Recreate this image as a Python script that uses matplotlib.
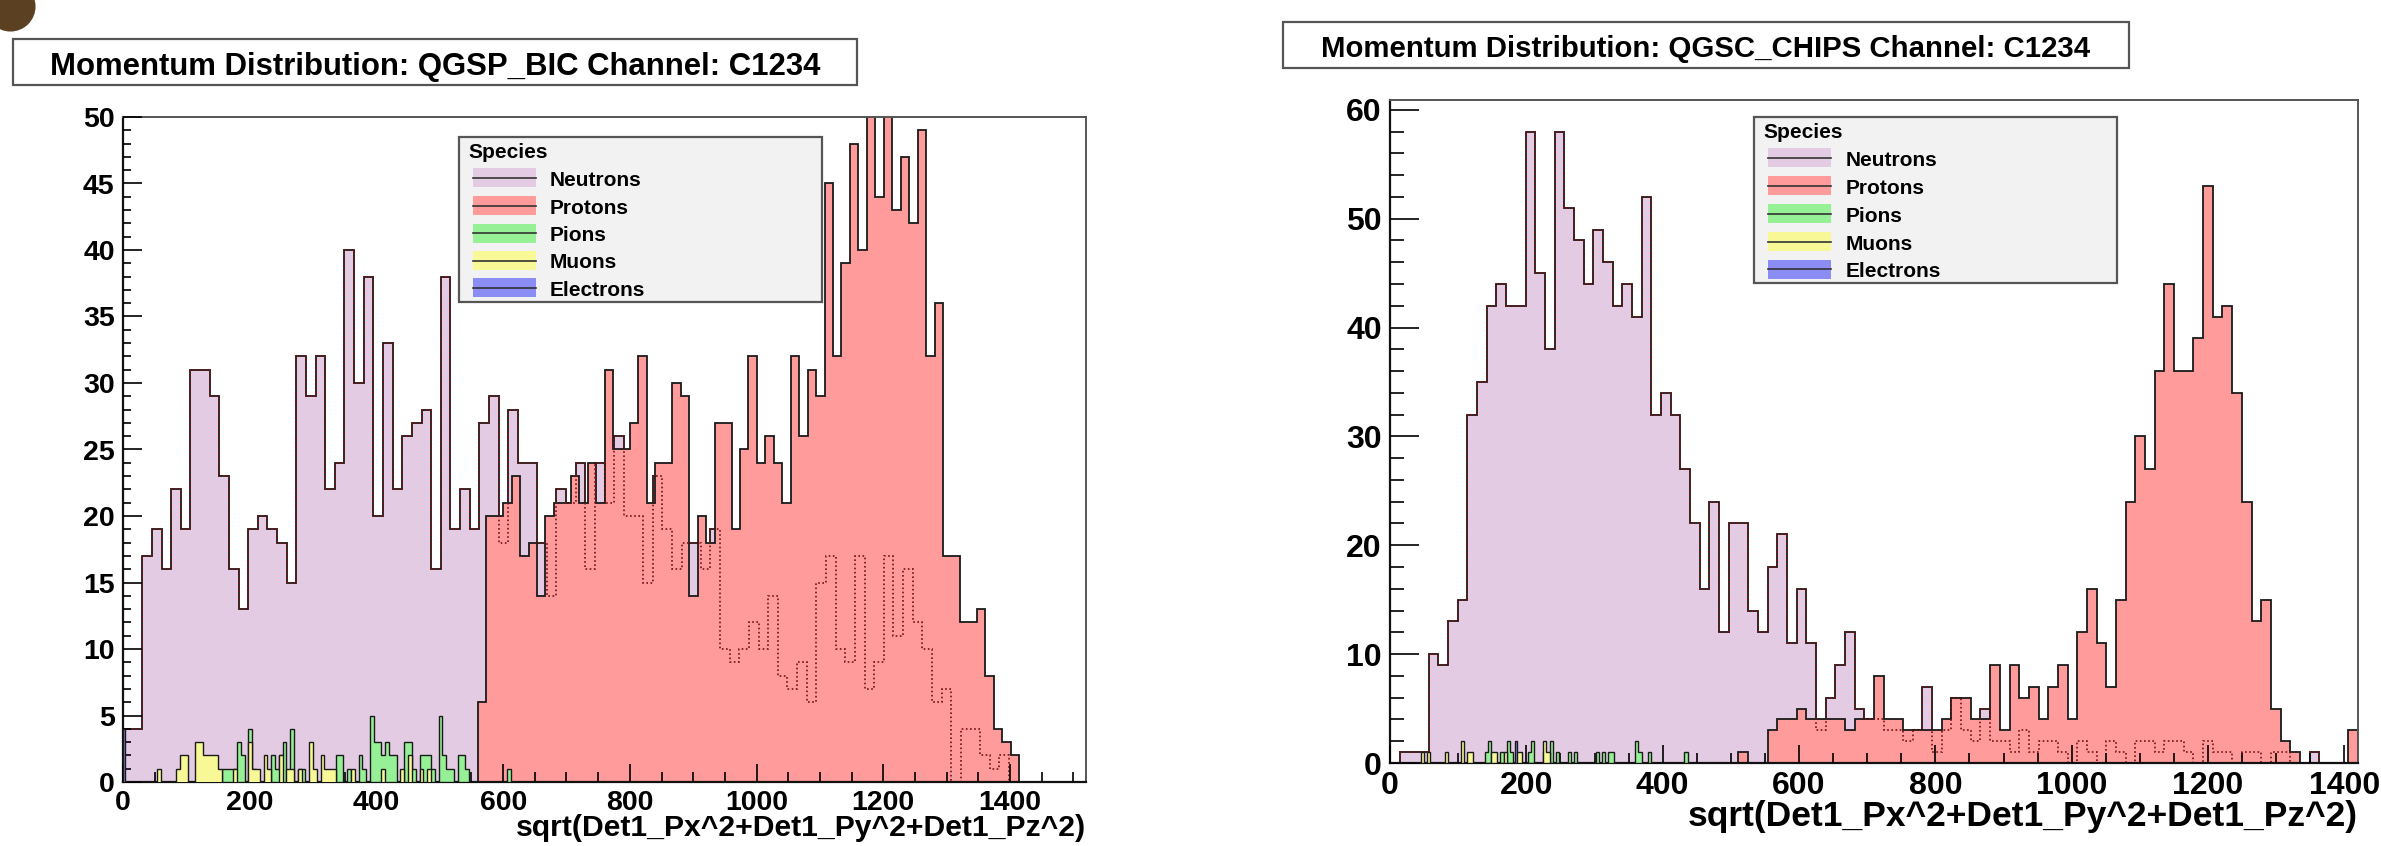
import numpy as np
import matplotlib
matplotlib.use("Agg")
import matplotlib.pyplot as plt
from matplotlib.patches import Rectangle
from matplotlib.ticker import MultipleLocator

W, H = 2381, 846

plt.rcParams['font.family'] = ['Liberation Sans', 'DejaVu Sans']
plt.rcParams['font.weight'] = 'bold'

species = ['Neutrons', 'Protons', 'Pions', 'Muons', 'Electrons']
colors = ['#e2cbe3', '#ff9b9b', '#96f096', '#f8f896', '#8c8cf5']
x_title = 'sqrt(Det1_Px^2+Det1_Py^2+Det1_Pz^2)'

# ---------------- QGSP_BIC (left) ----------------
bic_title = 'Momentum Distribution: QGSP_BIC Channel: C1234'
bic_xmax, bic_ymax = 1520, 50
bic_neutron_x0, bic_neutron_w = 0, 15.2
bic_neutrons = [4, 4, 17, 19, 16, 22, 19, 31, 31, 29,
                23, 16, 13, 19, 20, 19, 18, 15, 32, 29,
                32, 22, 24, 40, 30, 38, 20, 33, 22, 26,
                27, 28, 16, 38, 19, 22, 19, 27, 29, 18,
                28, 24, 24, 18, 14, 22, 21, 24, 16, 24,
                21, 26, 20, 20, 15, 23, 19, 16, 18, 18,
                16, 19, 10, 9, 10, 12, 10, 14, 8, 7,
                9, 6, 15, 17, 10, 9, 17, 7, 9, 17,
                11, 16, 12, 10, 6, 7, 0, 4, 4, 2,
                1, 2, 0, 0, 0, 0, 0, 0, 0, 0]
bic_proton_x0, bic_proton_w = 560, 13.35
bic_protons = [6, 20, 20, 21, 23, 17, 18, 14, 20, 21, 21, 23, 21, 24, 21, 31, 25, 25,
               27, 32, 21, 24, 24, 30, 29, 14, 20, 18, 27, 27, 19, 25, 32, 24, 26, 24,
               21, 32, 26, 31, 29, 45, 32, 39, 48, 40, 52, 44, 52, 43, 47, 42, 49, 32,
               36, 17, 17, 12, 12, 13, 8, 4, 3, 2]
bic_fine_w, bic_fine_max = 6, 620
bic_pion_p = [160, 166, 172, 178, 184, 190, 203, 209, 237, 245, 250, 256, 268, 278,
              286, 340, 346, 355, 376, 382, 392, 398, 404, 410, 418, 424, 430, 444,
              450, 460, 472, 478, 484, 490, 500, 506, 514, 521, 530, 536, 542, 606]
bic_pion_n = [1, 1, 1, 1, 3, 2, 4, 1, 2, 1, 2, 3, 4, 1,
              1, 2, 2, 1, 2, 1, 5, 3, 3, 2, 3, 2, 2, 3,
              3, 1, 2, 2, 2, 1, 5, 2, 1, 1, 2, 2, 1, 1]
bic_muon_p = [56, 86, 95, 101, 114, 122, 128, 134, 140, 146, 152, 176, 201, 208, 214,
              222, 232, 248, 263, 269, 276, 296, 302, 314, 322, 328, 334, 362, 412,
              440, 455, 470, 484]
bic_muon_n = [1, 1, 2, 2, 3, 3, 2, 2, 2, 2, 1, 1, 3, 1, 1,
              2, 1, 2, 1, 1, 1, 3, 1, 2, 1, 1, 1, 1, 1,
              1, 2, 1, 1]
bic_electron_p = [1]
bic_electron_n = [4]

# ---------------- QGSC_CHIPS (right) ----------------
chips_title = 'Momentum Distribution: QGSC_CHIPS Channel: C1234'
chips_xmax, chips_ymax = 1420, 60.9
chips_w = 14.2
chips_neutrons = [0, 1, 1, 1, 10, 9, 13, 15, 32, 35,
                  42, 44, 42, 42, 58, 45, 38, 58, 51, 48,
                  44, 49, 46, 42, 44, 41, 52, 32, 34, 32,
                  27, 22, 16, 24, 12, 22, 22, 14, 12, 18,
                  21, 11, 16, 11, 3, 6, 9, 12, 5, 4,
                  4, 3, 3, 2, 3, 7, 1, 3, 6, 3,
                  2, 5, 2, 2, 1, 3, 1, 2, 2, 1,
                  0, 2, 1, 0, 2, 1, 0, 2, 2, 1,
                  2, 2, 1, 0, 2, 1, 1, 0, 1, 1,
                  0, 1, 1, 0, 0, 1, 0, 0, 0, 0]
chips_protons = [0] * 36 + [1, 0, 0, 3,
                            4, 4, 5, 4, 4, 4, 4, 3, 4, 4,
                            8, 4, 4, 3, 3, 3, 3, 4, 6, 6,
                            4, 4, 9, 3, 9, 6, 7, 4, 7, 9,
                            4, 12, 16, 11, 7, 15, 24, 30, 27, 36,
                            44, 36, 36, 39, 53, 41, 42, 34, 24, 13,
                            15, 5, 2, 1, 0, 0, 0, 0, 0, 3]
chips_fine_w, chips_fine_max = 4.5, 450
chips_pion_p = [141, 146, 166, 173, 178, 204, 209, 227, 236, 247, 264, 270, 302, 312,
                320, 325, 361, 368, 381, 433]
chips_pion_n = [1, 2, 1, 2, 1, 1, 2, 1, 2, 1, 1, 1, 1, 1, 1, 1, 2, 1, 1, 1]
chips_muon_p = [48, 57, 85, 106, 115, 121, 150, 156, 168, 186, 190, 227, 231]
chips_muon_n = [1, 1, 1, 2, 1, 1, 1, 1, 1, 1, 1, 2, 1]
chips_electron_p = [183]
chips_electron_n = [2]


def px_axes(fig, l, t, r, b):
    return fig.add_axes([l / W, 1 - b / H, (r - l) / W, (b - t) / H])


def hist(ax, x0, w, vals, color, z, lw=1.3):
    edges = x0 + w * np.arange(len(vals) + 1)
    ax.stairs(vals, edges, fill=True, color=color, zorder=z)
    ax.stairs(vals, edges, baseline=0, color='#1a1a1a', lw=lw, zorder=z + 0.1)
    return edges


def fine_hist(ax, p, n, w, xmax, color, z):
    edges = np.arange(0, xmax + w, w)
    vals, _ = np.histogram(p, bins=edges, weights=n)
    ax.stairs(vals, edges, fill=True, color=color, zorder=z)
    ax.stairs(vals, edges, baseline=0, color='#1a1a1a', lw=1.0, zorder=z + 0.1)


def style_axes(ax, xmax, ymax, ymaj, ymin, ylen, lsize):
    ax.set_xlim(0, xmax)
    ax.set_ylim(0, ymax)
    ax.xaxis.set_major_locator(MultipleLocator(200))
    ax.xaxis.set_minor_locator(MultipleLocator(50))
    ax.yaxis.set_major_locator(MultipleLocator(ymaj))
    ax.yaxis.set_minor_locator(MultipleLocator(ymin))
    ax.set_axisbelow(False)
    ax.tick_params(which='both', direction='in', top=False, right=False,
                   width=1.2, labelsize=lsize, pad=6)
    ax.tick_params(axis='y', which='major', length=ylen[0])
    ax.tick_params(axis='y', which='minor', length=ylen[1])
    ax.tick_params(axis='x', which='major', length=13)
    ax.tick_params(axis='x', which='minor', length=7)
    for s in ['left', 'bottom']:
        ax.spines[s].set_color('#111111')
        ax.spines[s].set_linewidth(1.6)
    for s in ['top', 'right']:
        ax.spines[s].set_color('#555555')
        ax.spines[s].set_linewidth(1.4)


fig = plt.figure(figsize=(W / 100, H / 100), dpi=100)
fig.patch.set_facecolor('white')

# left panel
axl = px_axes(fig, 123, 117, 1086, 782)
hist(axl, bic_neutron_x0, bic_neutron_w, bic_neutrons, colors[0], 1)
hist(axl, bic_proton_x0, bic_proton_w, bic_protons, colors[1], 2)
e = bic_neutron_x0 + bic_neutron_w * np.arange(len(bic_neutrons) + 1)
axl.stairs(bic_neutrons, e, baseline=0, color='#7a1010', lw=1.2,
           linestyle=(0, (1, 1.5)), zorder=2.3)
fine_hist(axl, bic_pion_p, bic_pion_n, bic_fine_w, bic_fine_max, colors[2], 3)
fine_hist(axl, bic_muon_p, bic_muon_n, bic_fine_w, bic_fine_max, colors[3], 4)
fine_hist(axl, bic_electron_p, bic_electron_n, 3, 30, colors[4], 5)
style_axes(axl, bic_xmax, bic_ymax, 5, 1, (14, 5.5), 20.5)

# right panel
axr = px_axes(fig, 1390, 100, 2358, 763)
hist(axr, 0, chips_w, chips_neutrons, colors[0], 1)
hist(axr, 0, chips_w, chips_protons, colors[1], 2)
e = chips_w * np.arange(len(chips_neutrons) + 1)
axr.stairs(chips_neutrons, e, baseline=0, color='#7a1010', lw=1.2,
           linestyle=(0, (1, 1.5)), zorder=2.3)
fine_hist(axr, chips_pion_p, chips_pion_n, chips_fine_w, chips_fine_max, colors[2], 3)
fine_hist(axr, chips_muon_p, chips_muon_n, chips_fine_w, chips_fine_max, colors[3], 4)
fine_hist(axr, chips_electron_p, chips_electron_n, 3, 300, colors[4], 5)
style_axes(axr, chips_xmax, chips_ymax, 10, 2, (21, 10), 23)

# overlay in pixel coordinates for boxes and legends
ov = fig.add_axes([0, 0, 1, 1], zorder=10)
ov.set_xlim(0, W)
ov.set_ylim(H, 0)
ov.axis('off')

# small brown corner mark (part of the original screenshot)
ov.scatter([10], [6], s=1300, color='#5b4022', linewidths=0)

for (bx, by, bw, bh), txt, fs in [((13, 39, 844, 46), bic_title, 22.4),
                                  ((1283, 22, 846, 46), chips_title, 21.2)]:
    ov.add_patch(Rectangle((bx, by), bw, bh, fc='white', ec='#555555', lw=1.6))
    ov.text(bx + bw / 2, by + bh / 2 + 1, txt, fontsize=fs, ha='center',
            va='center_baseline')

ov.text(1086, 836, x_title, fontsize=21.7, ha='right', va='baseline')
ov.text(2358, 826, x_title, fontsize=25.5, ha='right', va='baseline')


def legend(x, y, w, h, head_y, rows_y, sw_x, lab_x):
    ov.add_patch(Rectangle((x, y), w, h, fc='#f2f2f2', ec='#555555', lw=1.6))
    ov.text(x + 9, head_y, 'Species', fontsize=15, ha='left', va='center_baseline')
    for name, c, yy in zip(species, colors, rows_y):
        ov.add_patch(Rectangle((sw_x, yy - 9.5), 63, 19, fc=c, ec='none'))
        ov.plot([sw_x, sw_x + 63], [yy, yy], color='#333333', lw=1.2)
        ov.text(lab_x, yy, name, fontsize=15, ha='left', va='center_baseline')


legend(459, 137, 363, 165, 151, [178, 206, 233.5, 261, 288], 473, 550)
legend(1754, 117, 363, 166, 131, [158, 186, 214, 242, 269.5], 1768, 1846)

fig.savefig('out.png', dpi=100, facecolor='white')
